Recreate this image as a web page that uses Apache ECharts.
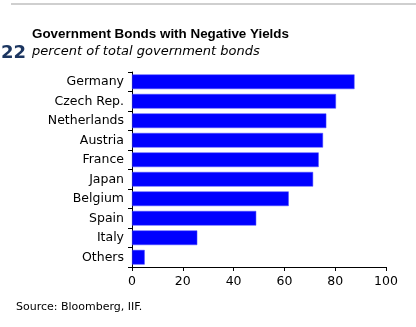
<!DOCTYPE html>
<html>
<head>
<meta charset="utf-8">
<script src="https://cdn.jsdelivr.net/npm/echarts@6/dist/echarts.min.js"></script>
<style>
  html, body { margin: 0; padding: 0; background: #fff; }
  #chart { width: 416px; height: 327px; }
</style>
</head>
<body>
<div id="chart"></div>
<script>
// Share of each market's government bonds trading at negative yields (%)
const countries = ['Germany', 'Czech Rep.', 'Netherlands', 'Austria', 'France',
                   'Japan', 'Belgium', 'Spain', 'Italy', 'Others'];
const negativeShare = [87.6, 80.3, 76.5, 75.2, 73.5, 71.3, 61.7, 48.9, 25.7, 5.0];
const xTicks = [0, 20, 40, 60, 80, 100];

const FONT = 'DejaVu Sans';
const chart = echarts.init(document.getElementById('chart'), null, { renderer: 'canvas' });

chart.setOption({
  animation: false,
  backgroundColor: '#ffffff',
  grid: { left: 132, right: 30, top: 72, bottom: 60, containLabel: false },
  xAxis: {
    type: 'value',
    min: xTicks[0],
    max: xTicks[xTicks.length - 1],
    interval: xTicks[1] - xTicks[0],
    axisLine: { show: true, lineStyle: { color: '#000', width: 1 } },
    axisTick: { show: true, length: 4, lineStyle: { color: '#000' } },
    axisLabel: { color: '#000', fontFamily: FONT, fontSize: 12.5, margin: 8 },
    splitLine: { show: false }
  },
  yAxis: {
    type: 'category',
    data: countries,
    inverse: true,
    axisLine: { show: true, lineStyle: { color: '#000', width: 1 } },
    axisTick: { show: true, length: 4, alignWithLabel: false, lineStyle: { color: '#000' } },
    axisLabel: { color: '#000', fontFamily: FONT, fontSize: 12.5, margin: 8 }
  },
  series: [{
    type: 'bar',
    data: negativeShare,
    barCategoryGap: '25%',
    itemStyle: { color: '#0000ff', borderColor: '#4a4aff', borderWidth: 0.5 }
  }],
  graphic: [
    { type: 'line', shape: { x1: 11, y1: 4, x2: 416, y2: 4 },
      style: { stroke: '#cfcfcf', lineWidth: 2 } },
    { type: 'text', left: 32, top: 28,
      style: { text: 'Government Bonds with Negative Yields', fill: '#000',
               font: 'bold 13.4px "Liberation Sans"' } },
    { type: 'text', left: 32, top: 45,
      style: { text: 'percent of total government bonds', fill: '#000',
               font: 'italic 13px "DejaVu Sans"' } },
    { type: 'text', left: 1, top: 44,
      style: { text: '22', fill: '#1b3560', font: 'bold 18px "DejaVu Sans"' } },
    { type: 'text', left: 16, top: 302,
      style: { text: 'Source: Bloomberg, IIF.', fill: '#000', font: '11px "DejaVu Sans"' } }
  ]
});
</script>
</body>
</html>
